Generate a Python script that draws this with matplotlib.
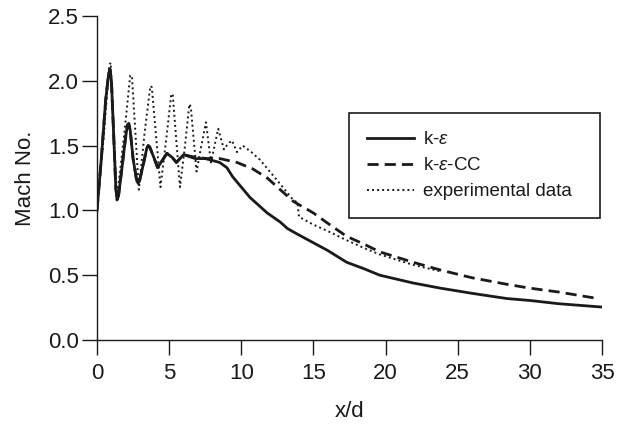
import matplotlib
matplotlib.use("Agg")
import matplotlib.pyplot as plt

plt.rcParams['font.family'] = ['Liberation Sans', 'DejaVu Sans']
plt.rcParams['mathtext.fontset'] = 'custom'
plt.rcParams['mathtext.it'] = 'Liberation Sans:italic'

# k-epsilon (solid)
ke_x = [0, 0.3, 0.6, 0.8, 0.9, 1.0, 1.15, 1.3, 1.39, 1.5, 1.7, 2.0, 2.12, 2.2, 2.3, 2.5, 2.75, 2.85, 2.95,
        3.2, 3.45, 3.55, 3.65, 3.9, 4.2, 4.55, 4.85, 5.2, 5.5, 6.0, 6.8, 7.5, 8.5, 9.0, 9.4, 10.0,
        10.6, 11.2, 11.8, 12.7, 13.2, 14.0, 15.0, 16.0, 17.3, 18.5, 19.6, 21.9, 23.8, 26.0, 28.4,
        30.0, 32.0, 34.9]
ke_y = [1.00, 1.40, 1.85, 2.05, 2.09, 2.00, 1.60, 1.18, 1.08, 1.12, 1.30, 1.58, 1.66, 1.67, 1.62, 1.40, 1.23,
        1.21, 1.23, 1.35, 1.48, 1.50, 1.49, 1.42, 1.33, 1.39, 1.44, 1.41, 1.37, 1.43, 1.40, 1.40,
        1.37, 1.33, 1.26, 1.18, 1.10, 1.04, 0.98, 0.91, 0.86, 0.81, 0.75, 0.69, 0.60, 0.55, 0.50,
        0.44, 0.40, 0.36, 0.32, 0.305, 0.28, 0.255]

# k-epsilon-CC (dashed)
kcc_x = [0, 0.3, 0.6, 0.8, 0.9, 1.0, 1.15, 1.3, 1.39, 1.5, 1.7, 2.0, 2.12, 2.2, 2.3, 2.5, 2.75, 2.85, 2.95,
         3.2, 3.45, 3.55, 3.65, 3.9, 4.2, 4.55, 4.85, 5.2, 5.5, 6.0, 6.8, 7.6, 8.5, 9.7, 10.8,
         11.8, 12.9, 13.6, 15.0, 16.0, 17.3, 18.5, 19.6, 21.9, 23.8, 26.0, 28.4, 30.0, 32.0, 34.7]
kcc_y = [1.00, 1.40, 1.85, 2.05, 2.09, 2.00, 1.60, 1.18, 1.08, 1.12, 1.30, 1.58, 1.66, 1.67, 1.62, 1.40, 1.23,
         1.21, 1.23, 1.35, 1.48, 1.50, 1.49, 1.42, 1.33, 1.39, 1.44, 1.41, 1.37, 1.43, 1.41, 1.40,
         1.40, 1.37, 1.32, 1.25, 1.14, 1.07, 0.98, 0.90, 0.80, 0.74, 0.68, 0.60, 0.54, 0.48, 0.43,
         0.40, 0.37, 0.32]

# experimental data (dotted)
exp_x = [0, 0.45, 0.85, 0.95, 1.15, 1.39, 1.9, 2.3, 2.42, 2.9, 3.3, 3.7, 3.8, 4.4, 4.8, 5.15, 5.25,
         5.75, 6.1, 6.4, 6.5, 6.9, 7.2, 7.55, 7.9, 8.15, 8.4, 8.8, 9.05, 9.35, 9.7, 10.1, 10.7, 11.3,
         12.5, 13.6, 13.9, 14.0, 15.0, 16.0, 17.3, 18.5, 19.6, 21.9, 23.8]
exp_y = [1.00, 1.55, 2.12, 2.14, 1.60, 1.10, 1.60, 2.04, 2.04, 1.16, 1.60, 1.96, 1.95, 1.18, 1.55, 1.90,
         1.89, 1.18, 1.50, 1.82, 1.80, 1.30, 1.48, 1.68, 1.37, 1.50, 1.63, 1.47, 1.51, 1.54, 1.45, 1.50,
         1.45, 1.39, 1.23, 1.08, 1.06, 0.95, 0.89, 0.84, 0.77, 0.71, 0.66, 0.58, 0.53]

labels = [r'k-$\varepsilon$', r'k-$\varepsilon$-CC', 'experimental data']
xticks = [0, 5, 10, 15, 20, 25, 30, 35]
yticks = [0.0, 0.5, 1.0, 1.5, 2.0, 2.5]

ink = '#1a1a1a'
fig = plt.figure(figsize=(6.26, 4.25), dpi=100)
ax = fig.add_axes([97/626, 85/425, 505/626, 324/425])

ax.plot(ke_x, ke_y, color=ink, lw=2.0, ls='-', label=labels[0])
ax.plot(kcc_x, kcc_y, color=ink, lw=2.0, ls=(0, (4.0, 2.2)), label=labels[1])
ax.plot(exp_x, exp_y, color=ink, lw=1.4, ls=(0, (1, 1.6)), label=labels[2])

ax.set_xlim(0, 35)
ax.set_ylim(0, 2.5)
ax.set_xticks(xticks)
ax.set_yticks(yticks)
ax.set_xticklabels([str(t) for t in xticks])
ax.set_yticklabels([f'{t:.1f}' for t in yticks])
for s in ['top', 'right']:
    ax.spines[s].set_visible(False)
for s in ['left', 'bottom']:
    ax.spines[s].set_linewidth(1.0)
    ax.spines[s].set_color(ink)
ax.tick_params(axis='both', direction='out', length=10.8, width=1.0, colors=ink,
               labelsize=16, labelcolor=ink)
ax.tick_params(axis='x', pad=6)
ax.tick_params(axis='y', pad=2)
ax.set_xlabel('x/d', fontsize=16, color=ink, labelpad=12)
ax.set_ylabel('Mach No.', fontsize=16, color=ink, labelpad=9)

leg = ax.legend(loc='upper left', bbox_to_anchor=(0.499, 0.389, 0.497, 0.311), mode='expand',
                fontsize=13.5, frameon=True, fancybox=False, framealpha=1, edgecolor=ink,
                handlelength=2.5, handletextpad=0.5, labelspacing=0.48, borderpad=0.95,
                borderaxespad=0)
leg.get_frame().set_linewidth(1.2)
for t in leg.get_texts():
    t.set_color(ink)

fig.savefig('out.png', dpi=100)
